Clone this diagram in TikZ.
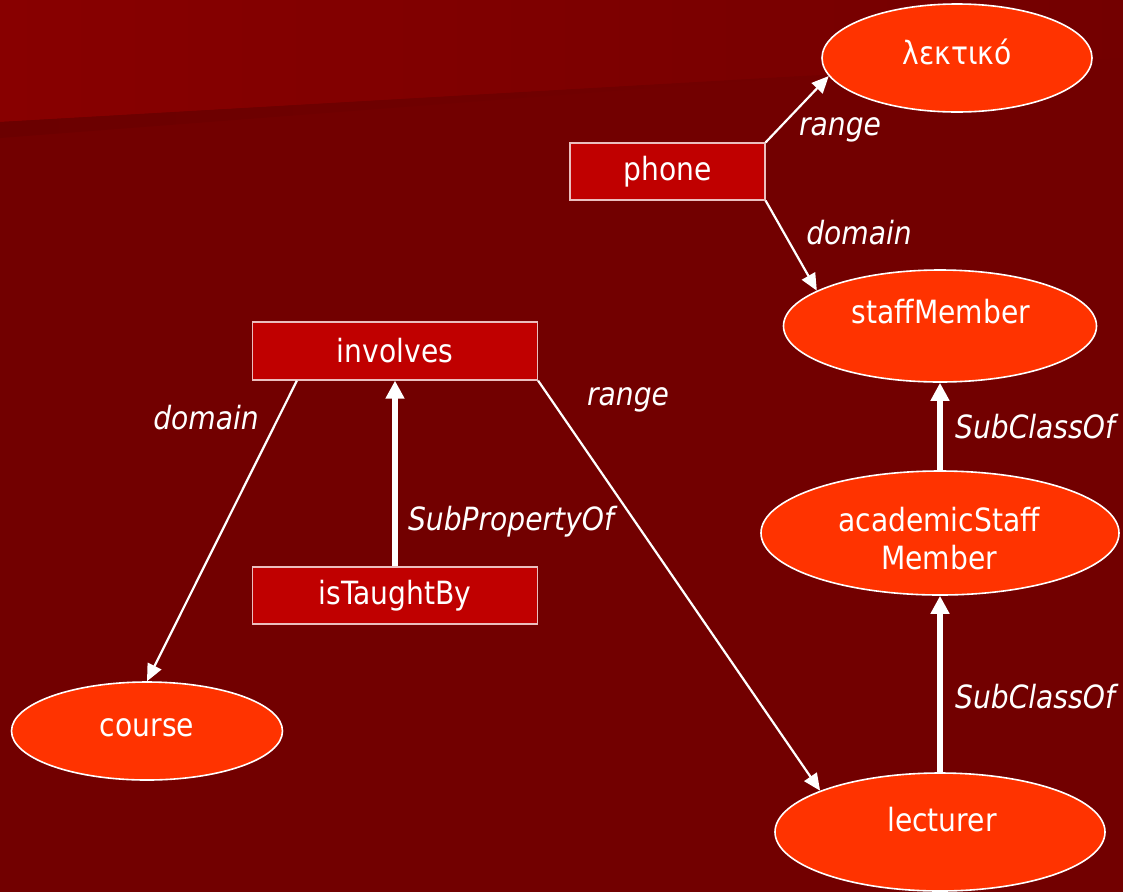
\documentclass[tikz,border=0pt]{standalone}
\usepackage{fontspec}
\setmainfont{DejaVu Sans}[FakeStretch=0.88]
\usepackage{tikz}
\usetikzlibrary{shapes.geometric,arrows.meta}
\definecolor{bgred}{RGB}{114,0,0}
\definecolor{bandred}{RGB}{136,0,0}
\definecolor{stripred}{RGB}{107,0,0}
\definecolor{boxred}{RGB}{192,0,0}
\definecolor{boxline}{RGB}{235,190,190}
\definecolor{ovalred}{RGB}{255,51,0}

\begin{document}
\begin{tikzpicture}[x=1pt,y=-1pt]
  \tikzstyle{every node}=[font=\fontsize{32}{38}\selectfont, text=white]
  \tikzstyle{prop}=[draw=boxline, fill=boxred, line width=1.2pt, minimum width=285pt, minimum height=57pt, inner sep=0pt]
  \tikzstyle{cls}=[ellipse, draw=white, fill=ovalred, line width=1.6pt, inner sep=0pt]
  \tikzstyle{rel}=[font=\fontsize{32}{38}\selectfont\itshape, inner sep=0pt]
  \tikzstyle{link}=[draw=white, line width=2.2pt, -{Triangle[length=17pt,width=15pt]}]
  \tikzstyle{sub}=[draw=white, line width=6pt, -{Triangle[length=18pt,width=18pt]}]
  \useasboundingbox (0,0) rectangle (1123,892);
  \fill[bgred] (0,0) rectangle (1123,892);
  \shade[left color=bandred, right color=bgred!95!bandred] (0,0) -- (1123,0) -- (1123,58) -- (0,122) -- cycle;
  \shade[left color=stripred, right color=bgred] (0,122) -- (820,75) -- (0,138) -- cycle;

  \node[cls, minimum width=270pt, minimum height=108pt] (lektiko) at (957,58) {};
  \node (lektikoText) at (957,52) {λεκτικό};
  \node[prop, minimum width=195pt] (phone) at (667.5,171.5) {phone};
  \node[cls, minimum width=313pt, minimum height=112pt] (staff) at (940,326) {};
  \node (staffText) at (941,312) {staffMember};
  \node[cls, minimum width=358pt, minimum height=124pt] (academic) at (940,533) {};
  \node[align=center] (academicText) at (939,539) {academicStaff\\Member};
  \node[cls, minimum width=330pt, minimum height=118pt] (lecturer) at (940,832) {};
  \node (lecturerText) at (942,820) {lecturer};
  \node[cls, minimum width=271pt, minimum height=98pt] (course) at (147,731) {};
  \node (courseText) at (147,728) {course};
  \node[prop, minimum height=58pt] (involves) at (395,351) {involves};
  \node[prop] (taught) at (395,595.5) {isTaughtBy};

  \draw[link] (phone.north east) -- (lektiko.188);
  \draw[link] (phone.south east) -- (staff.164);
  \draw[sub] (academic.north) -- (staff.south);
  \draw[sub] (lecturer.north) -- (academic.south);
  \draw[link] ([xshift=45pt]involves.south west) -- (course.north);
  \draw[link] (involves.south east) -- (lecturer.161);
  \draw[sub] (taught.north) -- (involves.south);

  \node[rel] (rangePhone) at (840,130) {range};
  \node[rel] (domainPhone) at (859,233) {domain};
  \node[rel] (subStaff) at (1035,427) {SubClassOf};
  \node[rel] (subAcademic) at (1035,697) {SubClassOf};
  \node[rel] (domainInv) at (206,418) {domain};
  \node[rel] (rangeInv) at (628,400) {range};
  \node[rel] (subProp) at (511,522) {SubPropertyOf};
\end{tikzpicture}
\end{document}
